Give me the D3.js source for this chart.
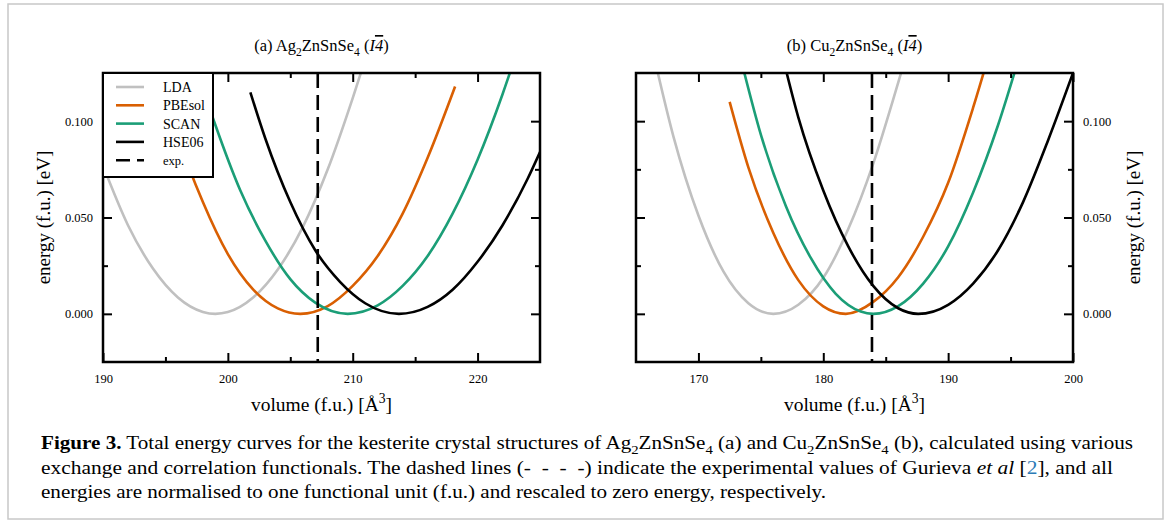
<!DOCTYPE html>
<html>
<head>
<meta charset="utf-8">
<script src="https://cdn.jsdelivr.net/npm/d3@7"></script>
<style>
  body { margin: 0; background: #fff; }
  svg, text { font-family: "Liberation Serif", "Times New Roman", Times, serif; fill: #000; }
</style>
</head>
<body>
<div id="chart"></div>
<script>
// functionals and their colours
const seriesNames = ["LDA", "PBEsol", "SCAN", "HSE06"];
const seriesColors = ["#c0c0c0", "#d95f02", "#1b9e77", "#000000"];

// (a) Ag2ZnSnSe4 : [volume, energy]
const agLDA = [[190, 0.077], [192, 0.046], [194, 0.0235], [196, 0.0085], [198, 0.001], [199, 0], [200, 0.0009], [202, 0.0083], [204, 0.023], [206, 0.045], [208, 0.075], [210, 0.112], [211, 0.132]];
const agPBEsol = [[195, 0.113], [196, 0.092], [198, 0.058], [200, 0.031], [202, 0.0128], [204, 0.0028], [205.8, 0], [208, 0.004], [210, 0.0145], [212, 0.030], [214, 0.052], [216, 0.081], [218.2, 0.118]];
const agSCAN = [[197.5, 0.127], [199, 0.098], [201, 0.064], [203, 0.038], [205, 0.018], [207, 0.0058], [209.6, 0], [212, 0.0044], [214, 0.0145], [216, 0.030], [218, 0.052], [220, 0.080], [222, 0.114], [223, 0.133]];
const agHSE06 = [[201.8, 0.115], [203, 0.091], [205, 0.058], [207, 0.033], [209, 0.0165], [211, 0.0055], [213.7, 0], [216, 0.0036], [218, 0.0125], [220, 0.027], [222, 0.046], [224, 0.070], [225, 0.084]];
const agExp = 207.2;

// (b) Cu2ZnSnSe4 : [volume, energy]
const cuLDA = [[166.5, 0.132], [168, 0.092], [170, 0.051], [172, 0.022], [174, 0.0055], [176, 0], [178, 0.0047], [180, 0.0187], [182, 0.044], [184, 0.078], [186, 0.120], [187, 0.142]];
const cuPBEsol = [[172.5, 0.110], [174, 0.076], [176, 0.042], [178, 0.0175], [180, 0.0039], [181.8, 0], [184, 0.0062], [186, 0.019], [188, 0.040], [190, 0.068], [192, 0.107], [193.2, 0.133]];
const cuSCAN = [[173.6, 0.127], [175, 0.093], [177, 0.056], [179, 0.029], [181, 0.0104], [183, 0.0012], [184, 0], [186, 0.004], [188, 0.0157], [190, 0.035], [192, 0.063], [194, 0.098], [195.4, 0.127]];
const cuHSE06 = [[176.8, 0.132], [178, 0.102], [180, 0.064], [182, 0.035], [184, 0.0145], [186, 0.0029], [187.6, 0], [190, 0.0047], [192, 0.0157], [194, 0.033], [196, 0.058], [198, 0.090], [200, 0.125]];
const cuExp = 183.9;

// ticks
const agMajor = [190, 200, 210, 220];
const agMinor = [195, 205, 215];
const cuMajor = [170, 180, 190, 200];
const cuMinor = [175, 185, 195];
const yMajor = [0, 0.05, 0.1];
const yMinor = [0.025, 0.075];

const width = 1171;
const height = 528;
const plotTop = 73;
const plotBottom = 362;
const plotWidth = 437;

const svg = d3
  .select("#chart")
  .append("svg")
  .attr("width", width)
  .attr("height", height)
  .attr("font-family", "Liberation Serif, serif");

// text with sub/superscripts, italics etc.
const rich = (el, parts, size) => {
  let off = 0;
  parts.forEach(p => {
    const [t, kind] = Array.isArray(p) ? p : [p, ""];
    const target = kind === "sub" ? size * 0.28 : kind === "sup" ? -size * 0.4 : 0;
    const ts = el.append("tspan").text(t).attr("dy", target - off);
    off = target;
    if (kind === "sub" || kind === "sup") ts.attr("font-size", size * 0.7);
    if (kind === "it" || kind === "itbar") ts.attr("font-style", "italic");
    if (kind === "itbar") ts.style("text-decoration", "overline");
    if (kind === "b") ts.attr("font-weight", "bold");
    if (kind === "link") ts.style("fill", "#2c7bb6");
  });
};

// grey figure border
svg
  .append("rect")
  .attr("x", 8)
  .attr("y", 4)
  .attr("width", 1155)
  .attr("height", 515)
  .attr("fill", "none")
  .attr("stroke", "#c8c8c8")
  .attr("stroke-width", 1.5);

const panels = [
  {
    left: 103,
    xDomain: [190, 225],
    xMajor: agMajor,
    xMinor: agMinor,
    expV: agExp,
    curves: [agLDA, agPBEsol, agSCAN, agHSE06],
    title: ["(a) Ag", ["2", "sub"], "ZnSnSe", ["4", "sub"], " (", ["I", "it"], ["4", "itbar"], ")"],
    labelSide: "left"
  },
  {
    left: 636,
    xDomain: [165, 200],
    xMajor: cuMajor,
    xMinor: cuMinor,
    expV: cuExp,
    curves: [cuLDA, cuPBEsol, cuSCAN, cuHSE06],
    title: ["(b) Cu", ["2", "sub"], "ZnSnSe", ["4", "sub"], " (", ["I", "it"], ["4", "itbar"], ")"],
    labelSide: "right"
  }
];

panels.forEach((p, i) => {
  const x = d3.scaleLinear().domain(p.xDomain).range([p.left, p.left + plotWidth]);
  const y = d3.scaleLinear().domain([-0.025, 0.125]).range([plotBottom, plotTop]);
  const g = svg.append("g");

  g.append("clipPath")
    .attr("id", "clip" + i)
    .append("rect")
    .attr("x", p.left)
    .attr("y", plotTop)
    .attr("width", plotWidth)
    .attr("height", plotBottom - plotTop);

  const line = d3
    .line()
    .x(d => x(d[0]))
    .y(d => y(d[1]))
    .curve(d3.curveMonotoneX);

  const plot = g.append("g").attr("clip-path", `url(#clip${i})`);
  p.curves.forEach((c, k) => {
    plot
      .append("path")
      .datum(c)
      .attr("d", line)
      .attr("fill", "none")
      .attr("stroke", seriesColors[k])
      .attr("stroke-width", 2.6);
  });

  plot
    .append("line")
    .attr("x1", x(p.expV))
    .attr("x2", x(p.expV))
    .attr("y1", plotTop)
    .attr("y2", plotBottom)
    .attr("stroke", "#000")
    .attr("stroke-width", 2.6)
    .attr("stroke-dasharray", "15,7");

  // axes, ticks pointing inward on all four sides
  const addAxis = (axis, tx, ty) =>
    g.append("g")
      .attr("transform", `translate(${tx},${ty})`)
      .call(axis)
      .call(a => a.select(".domain").remove())
      .attr("font-family", null)
      .attr("font-size", 12.5)
      .call(a => a.selectAll("line").attr("stroke-width", 2));

  addAxis(d3.axisBottom(x).tickValues(p.xMajor).tickSizeInner(-9).tickSizeOuter(0).tickPadding(12).tickFormat(d3.format("d")), 0, plotBottom);
  addAxis(d3.axisBottom(x).tickValues(p.xMinor).tickSizeInner(-5).tickSizeOuter(0).tickFormat(""), 0, plotBottom);
  addAxis(d3.axisTop(x).tickValues(p.xMajor).tickSizeInner(-9).tickSizeOuter(0).tickFormat(""), 0, plotTop);
  addAxis(d3.axisTop(x).tickValues(p.xMinor).tickSizeInner(-5).tickSizeOuter(0).tickFormat(""), 0, plotTop);

  const fmt = d3.format(".3f");
  addAxis(d3.axisLeft(y).tickValues(yMajor).tickSizeInner(-9).tickSizeOuter(0).tickPadding(10).tickFormat(p.labelSide === "left" ? fmt : ""), p.left, 0);
  addAxis(d3.axisLeft(y).tickValues(yMinor).tickSizeInner(-5).tickSizeOuter(0).tickFormat(""), p.left, 0);
  addAxis(d3.axisRight(y).tickValues(yMajor).tickSizeInner(-9).tickSizeOuter(0).tickPadding(10).tickFormat(p.labelSide === "right" ? fmt : ""), p.left + plotWidth, 0);
  addAxis(d3.axisRight(y).tickValues(yMinor).tickSizeInner(-5).tickSizeOuter(0).tickFormat(""), p.left + plotWidth, 0);

  // frame
  g.append("rect")
    .attr("x", p.left)
    .attr("y", plotTop)
    .attr("width", plotWidth)
    .attr("height", plotBottom - plotTop)
    .attr("fill", "none")
    .attr("stroke", "#000")
    .attr("stroke-width", 2.5);

  const cx = p.left + plotWidth / 2;
  rich(g.append("text").attr("x", cx).attr("y", 51).attr("text-anchor", "middle").attr("font-size", 16.5), p.title, 16.5);
  rich(g.append("text").attr("x", cx).attr("y", 411).attr("text-anchor", "middle").attr("font-size", 19.5), ["volume (f.u.) [Å", ["3", "sup"], "]"], 19.5);

  const ty = (plotTop + plotBottom) / 2;
  const tx = p.labelSide === "left" ? p.left - 60 : p.left + plotWidth + 60;
  g.append("text")
    .attr("transform", `translate(${tx},${ty}) rotate(-90)`)
    .attr("text-anchor", "middle")
    .attr("dy", "0.35em")
    .attr("font-size", 19)
    .text("energy (f.u.) [eV]");

  if (i === 0) {
    const lg = g.append("g");
    lg.append("rect")
      .attr("x", p.left)
      .attr("y", plotTop)
      .attr("width", 110)
      .attr("height", 104)
      .attr("fill", "#fff")
      .attr("stroke", "#000")
      .attr("stroke-width", 2);
    const entries = seriesNames.map((n, k) => ({ name: n, color: seriesColors[k], dash: null }))
      .concat([{ name: "exp.", color: "#000", dash: "14,7" }]);
    entries.forEach((e, k) => {
      const yy = 87 + k * 18.3;
      lg.append("line")
        .attr("x1", 116).attr("x2", 144)
        .attr("y1", yy).attr("y2", yy)
        .attr("stroke", e.color)
        .attr("stroke-width", 2.6)
        .attr("stroke-dasharray", e.dash);
      lg.append("text")
        .attr("x", 163)
        .attr("y", yy)
        .attr("dy", "0.35em")
        .attr("font-size", k === 4 ? 12.5 : 14)
        .text(e.name);
    });
  }
});

// caption
const captionLines = [
  [["Figure 3.", "b"], " Total energy curves for the kesterite crystal structures of Ag", ["2", "sub"], "ZnSnSe", ["4", "sub"], " (a) and Cu", ["2", "sub"], "ZnSnSe", ["4", "sub"], " (b), calculated using various"],
  ["exchange and correlation functionals. The dashed lines (-  -  -  -) indicate the experimental values of Gurieva ", ["et al", "it"], " [", ["2", "link"], "], and all"],
  ["energies are normalised to one functional unit (f.u.) and rescaled to zero energy, respectively."]
];
const captionWidths = [1092, 1072, 785];

captionLines.forEach((parts, k) => {
  const t = svg.append("text")
    .attr("x", 41)
    .attr("y", 449 + k * 24.5)
    .attr("font-size", 19)
    .style("white-space", "pre")
    .attr("textLength", captionWidths[k])
    .attr("lengthAdjust", "spacingAndGlyphs");
  rich(t, parts, 19);
});
</script>
</body>
</html>
